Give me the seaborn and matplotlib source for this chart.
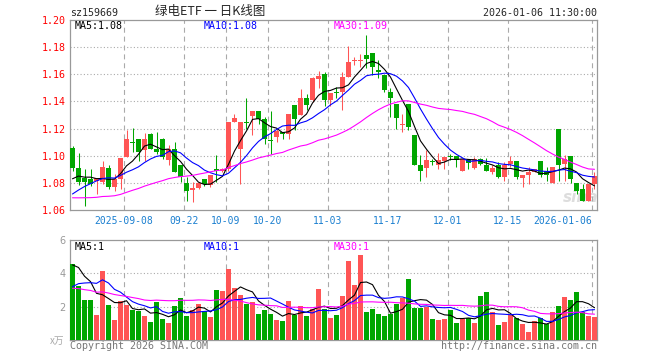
import numpy as np
import pandas as pd
import matplotlib
matplotlib.use("Agg")
import matplotlib.pyplot as plt
import seaborn as sns

# daily candles, 88 sessions ending 2026-01-06
opens = [1.106, 1.091, 1.0835, 1.083, 1.0815, 1.081, 1.0908, 1.0773, 1.0825, 1.099,
         1.1096, 1.1126, 1.1039, 1.1158, 1.1052, 1.1126, 1.097, 1.105, 1.0933, 1.080,
         1.075, 1.076, 1.083, 1.0785, 1.0899, 1.0884, 1.0899, 1.1245, 1.105, 1.125,
         1.1291, 1.1329, 1.1274, 1.111, 1.1138, 1.1175, 1.1163, 1.1373, 1.1299, 1.1427,
         1.141, 1.1568, 1.1603, 1.141, 1.1465, 1.1472, 1.1583, 1.1697, 1.170, 1.1743,
         1.1756, 1.1625, 1.1595, 1.1467, 1.1378, 1.1228, 1.1378, 1.1155, 1.0933, 1.0908,
         1.0958, 1.0933, 1.0958, 1.0995, 1.0995, 1.0891, 1.0965, 1.0909, 1.0973, 1.0933,
         1.0879, 1.0933, 1.0842, 1.0941, 1.0958, 1.0835, 1.0861, 1.0879, 1.0958, 1.0891,
         1.080, 1.1195, 1.0941, 1.0998, 1.080, 1.0756, 1.0669, 1.0793]
highs = [1.107, 1.102, 1.090, 1.090, 1.0835, 1.0958, 1.0933, 1.0867, 1.0985, 1.1188,
         1.1205, 1.1126, 1.1164, 1.1164, 1.1176, 1.113, 1.108, 1.110, 1.0933, 1.0842,
         1.0805, 1.080, 1.083, 1.0859, 1.1002, 1.091, 1.1245, 1.1309, 1.1245, 1.1422,
         1.133, 1.1329, 1.1286, 1.1329, 1.120, 1.1175, 1.1304, 1.1373, 1.1489, 1.1452,
         1.1583, 1.1627, 1.162, 1.1464, 1.1509, 1.162, 1.1805, 1.1731, 1.1748, 1.1892,
         1.1756, 1.1706, 1.1595, 1.1496, 1.1378, 1.1311, 1.1378, 1.1155, 1.1002, 1.1039,
         1.0978, 1.1022, 1.0988, 1.1015, 1.0995, 1.0973, 1.0973, 1.099, 1.0983, 1.0983,
         1.0928, 1.0953, 1.0953, 1.0998, 1.0958, 1.0859, 1.0916, 1.0899, 1.0958, 1.0916,
         1.0916, 1.1195, 1.1002, 1.0998, 1.080, 1.0793, 1.0793, 1.0879]
lows = [1.089, 1.0785, 1.063, 1.0775, 1.072, 1.0793, 1.0755, 1.0743, 1.0757, 1.099,
        1.1027, 1.0958, 1.0958, 1.1052, 1.1015, 1.0975, 1.0935, 1.088, 1.0805, 1.0669,
        1.0661, 1.0755, 1.078, 1.0768, 1.0805, 1.088, 1.089, 1.1245, 1.0793, 1.120,
        1.1151, 1.1232, 1.1089, 1.101, 1.1101, 1.1126, 1.1126, 1.1188, 1.1299, 1.1336,
        1.1398, 1.1496, 1.1366, 1.1366, 1.1422, 1.1336, 1.1583, 1.1669, 1.1657, 1.1645,
        1.1595, 1.1571, 1.1472, 1.1287, 1.120, 1.1175, 1.1188, 1.0933, 1.0817, 1.0842,
        1.0928, 1.0904, 1.0904, 1.0965, 1.0916, 1.0884, 1.0899, 1.0899, 1.0928, 1.0884,
        1.0867, 1.0834, 1.0817, 1.0916, 1.083, 1.0768, 1.0793, 1.0879, 1.0842, 1.0817,
        1.080, 1.0817, 1.0817, 1.080, 1.0719, 1.0669, 1.0669, 1.0756]
closes = [1.091, 1.081, 1.081, 1.079, 1.0835, 1.0918, 1.0773, 1.0825, 1.0985, 1.1126,
          1.1092, 1.1027, 1.1126, 1.1052, 1.1027, 1.099, 1.105, 1.088, 1.0842, 1.0743,
          1.076, 1.080, 1.0793, 1.0859, 1.0884, 1.0904, 1.1245, 1.1279, 1.1245, 1.124,
          1.1329, 1.1274, 1.1126, 1.1105, 1.1183, 1.1163, 1.1304, 1.1267, 1.1427, 1.1373,
          1.1571, 1.1588, 1.141, 1.1464, 1.146, 1.1583, 1.1694, 1.170, 1.1707, 1.1714,
          1.1657, 1.162, 1.1484, 1.1422, 1.1279, 1.1232, 1.1212, 1.0933, 1.0891, 1.097,
          1.0953, 1.0965, 1.0988, 1.099, 1.0965, 1.0973, 1.0946, 1.0973, 1.0941, 1.0891,
          1.0909, 1.0842, 1.0933, 1.0958, 1.0842, 1.0859, 1.0879, 1.0899, 1.0859, 1.0859,
          1.0916, 1.0933, 1.0978, 1.083, 1.0743, 1.0669, 1.0793, 1.0854]
# volume in 万
volumes = [4.54, 3.22, 2.38, 2.38, 1.48, 4.12, 2.08, 1.18, 2.32, 2.08,
           1.78, 1.72, 1.42, 1.06, 2.26, 1.24, 1.0, 2.02, 2.5, 1.42,
           1.78, 2.14, 1.72, 1.36, 2.98, 2.92, 4.24, 3.1, 2.68, 2.14,
           2.26, 1.54, 1.78, 1.54, 1.18, 1.12, 2.32, 1.48, 2.02, 1.42,
           1.84, 3.04, 1.84, 1.3, 1.5, 2.64, 4.74, 3.28, 5.08, 1.66,
           1.84, 1.54, 1.42, 1.58, 2.14, 2.54, 3.64, 1.9, 1.9, 1.98,
           1.24, 1.18, 1.24, 1.78, 1.0, 1.24, 1.34, 1.0, 2.62, 2.86,
           1.66, 0.88, 1.06, 1.5, 1.3, 0.94, 0.46, 1.12, 1.3, 0.96,
           1.66, 2.04, 2.56, 2.38, 2.86, 1.66, 1.42, 1.36]

# 29 sessions before the window (off chart) - estimated so the MA lines
# enter the frame where the picture shows them
prev_close = [1.082, 1.079, 1.077, 1.076, 1.074, 1.072, 1.071,
              1.069, 1.067, 1.064, 1.062, 1.061, 1.063, 1.062, 1.061, 1.0613,
              1.062, 1.064, 1.063, 1.0617,
              1.052, 1.055, 1.058, 1.063, 1.075,
              1.071, 1.085, 1.079, 1.089]
prev_vol = [3.6, 4.4, 3.8, 4.6, 3.5, 4.2, 3.9, 4.1, 3.7, 3.8, 3.6, 4.0,
            1.9, 1.6, 1.8, 1.5, 2.0, 1.7, 1.6, 1.7,
            1.42, 1.98, 2.18, 1.9, 1.98,
            4.0, 5.0, 4.0, 5.0]

tick_idx = [9, 19, 26, 33, 43, 53, 63, 73, 87]
tick_labels = ["2025-09-08", "09-22", "10-09", "10-20", "11-03",
               "11-17", "12-01", "12-15", "2026-01-06"]
price_ticks = [1.06, 1.08, 1.10, 1.12, 1.14, 1.16, 1.18, 1.20]
vol_ticks = [2, 4, 6]

RED = "#ff5555"
GREEN = "#00a600"
MA_COLORS = {5: "black", 10: "#0000ff", 30: "#ff00ff"}
GRID = "#aaaaaa"
W, H = 660, 360


def fx(p):
    return p / W


def fy(p):
    return 1 - p / H


def moving_avgs(prev, vals):
    s = pd.Series(list(prev) + list(vals))
    return {w: s.rolling(w).mean().iloc[len(prev):].to_numpy() for w in (5, 10, 30)}


sns.set_style("white")
plt.rcParams['font.family'] = ['DejaVu Sans Mono', 'Noto Sans CJK SC']

fig = plt.figure(figsize=(W / 100, H / 100), dpi=100)
ax = fig.add_axes([fx(70), fy(210), fx(527), 190 / H])
axv = fig.add_axes([fx(70), fy(340), fx(527), 100 / H])

x = np.arange(len(closes))
o = np.array(opens)
c = np.array(closes)
up = c >= o
col = np.where(up, RED, GREEN)

# candles
ax.vlines(x, lows, highs, colors=col, lw=0.75, zorder=2)
body_lo = np.minimum(o, c)
body_h = np.maximum(np.abs(c - o), 0.0008)
ax.bar(x, body_h, bottom=body_lo, width=5 / 6, color=col, lw=0, zorder=3)

ma = moving_avgs(prev_close, closes)
for w, colr in MA_COLORS.items():
    sns.lineplot(x=x, y=ma[w], color=colr, lw=0.8, ax=ax, zorder=4)

# volume
vdf = pd.DataFrame({"i": x, "vol": volumes, "dir": np.where(up, "up", "down")})
sns.barplot(data=vdf, x="i", y="vol", hue="dir", palette={"up": RED, "down": GREEN},
            dodge=False, width=5 / 6, saturation=1, legend=False, lw=0, ax=axv, zorder=3)
vma = moving_avgs(prev_vol, volumes)
for w, colr in MA_COLORS.items():
    sns.lineplot(x=x, y=vma[w], color=colr, lw=0.8, ax=axv, zorder=4)

for a in (ax, axv):
    a.set_xlim(-5 / 12, len(x) - 1 + 5 / 12)
    a.set_xlabel("")
    a.set_ylabel("")
    for t in tick_idx:
        a.axvline(t - 5 / 12, color=GRID, lw=0.8, ls=(0, (4.5, 3.5)), zorder=1)
    for s in a.spines.values():
        s.set_color("#999999")
        s.set_linewidth(0.9)
    a.tick_params(length=0)

ax.set_ylim(price_ticks[0], price_ticks[-1])
ax.set_yticks(price_ticks)
ax.set_yticklabels([f"{v:.2f}" for v in price_ticks], color="red", fontsize=7.2)
for v in price_ticks[1:-1]:
    ax.axhline(v, color=GRID, lw=0.8, ls=(0, (1, 2)), zorder=1)
ax.set_xticks([t - 5 / 12 for t in tick_idx])
ax.set_xticklabels(tick_labels, color="#1a7fd0", fontsize=7)
ax.tick_params(axis="y", pad=3)
ax.tick_params(axis="x", pad=4)
ax.get_xticklabels()[-1].set_ha("right")

axv.set_ylim(0, 6)
axv.set_yticks(vol_ticks)
axv.set_yticklabels([str(v) for v in vol_ticks], color="#999999", fontsize=7,
                    family="DejaVu Sans")
axv.tick_params(axis="y", pad=3)
axv.set_xticks([])
for v in vol_ticks[:-1]:
    axv.axhline(v, color=GRID, lw=0.8, ls=(0, (1, 2)), zorder=1)

# header
fig.text(fx(70), fy(13), "sz159669", fontsize=7.2, va="center")
fig.text(fx(210), fy(12), "绿电ETF 一 日K线图", fontsize=9, ha="center", va="center",
         family=["Noto Sans CJK SC", "DejaVu Sans"])
fig.text(fx(597), fy(13), "2026-01-06 11:30:00", fontsize=7.2, ha="right", va="center")

for (w, colr), xp in zip(MA_COLORS.items(), (75, 204, 334)):
    fig.text(fx(xp), fy(26), f"MA{w}:{ma[w][-1]:.2f}", color=colr, fontsize=7.2, va="center")
    fig.text(fx(xp), fy(246.5), f"MA{w}:{int(vma[w][-1])}", color=colr, fontsize=7.2, va="center")

ax.text(fx(581), fy(197), "sina", transform=fig.transFigure, color="#dddddd", fontsize=11,
        fontweight="bold", style="italic", ha="center", va="center", family="DejaVu Sans",
        zorder=0.5)

fig.text(fx(64), fy(341), "x万", color="#aaaaaa", fontsize=7, ha="right", va="center",
         family=["Noto Sans CJK SC", "DejaVu Sans"])
fig.text(fx(70), fy(346), "Copyright 2026 SINA.COM", color="#777777", fontsize=7.2, va="center")
fig.text(fx(597), fy(346), "http://finance.sina.com.cn", color="#777777", fontsize=7.2,
         ha="right", va="center")

fig.savefig("out.png", dpi=100)
